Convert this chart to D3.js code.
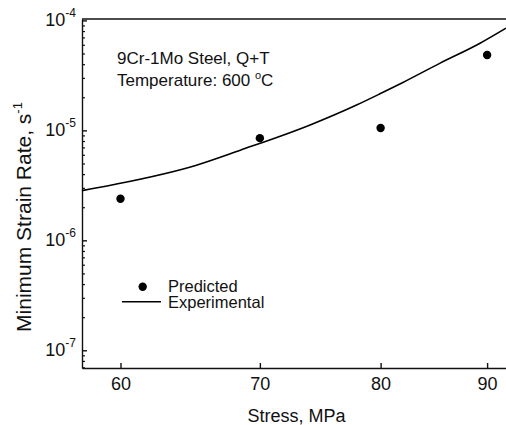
<!DOCTYPE html>
<html>
<head>
<meta charset="utf-8">
<script src="https://cdn.jsdelivr.net/npm/d3@7"></script>
<style>
  body { margin: 0; background: #fff; }
  text { font-family: "Liberation Sans", Arial, sans-serif; fill: #111; }
</style>
</head>
<body>
<div id="canvas"></div>
<script>
// predicted points (dots)
const stressPred = [60, 70, 80, 90];
const ratePred = [2.39e-6, 8.5e-6, 1.05e-5, 4.85e-5];

// experimental curve
const stressExp = [57.5, 59.5, 65.2, 68.5, 74, 77.9, 79.9, 82, 85.4, 89.3, 91.9];
const rateExp = [2.83e-6, 3.2e-6, 4.8e-6, 6.6e-6, 1.12e-5, 1.7e-5, 2.14e-5, 2.73e-5, 4.07e-5, 6.2e-5, 8.5e-5];

const xTicks = [60, 70, 80, 90];
const yTickExps = [-7, -6, -5, -4];

const W = 506, H = 425;
const mLeft = 82, mTop = 19, mBottom = 368, mRight = 506;

let svg = d3.select("#canvas").append("svg")
    .attr("width", W)
    .attr("height", H)

svg.append("rect").attr("width", W).attr("height", H).attr("fill", "#fff")

let x = d3.scaleLog().domain([57.5, 91.9]).range([mLeft, mRight])
let y = d3.scaleLog().domain([6.9e-8, 1.03e-4]).range([mBottom, mTop])

// minor y ticks (2..9 per decade)
let minor = []
for (let e = -8; e <= -5; e++)
    for (let m = 2; m <= 9; m++) {
        let v = m * Math.pow(10, e)
        if (v >= y.domain()[0] && v <= y.domain()[1]) minor.push(v)
    }

let yMinor = svg.append("g")
    .attr("transform", `translate(${mLeft},0)`)
    .call(d3.axisLeft(y).tickValues(minor).tickSizeInner(-3).tickSizeOuter(0).tickFormat(""))
yMinor.select(".domain").remove()
yMinor.selectAll("line").attr("stroke", "#111").attr("stroke-width", 1.2)

let yAxis = svg.append("g")
    .attr("transform", `translate(${mLeft},0)`)
    .call(d3.axisLeft(y).tickValues(yTickExps.map(e => Math.pow(10, e)))
        .tickSizeInner(-5).tickSizeOuter(0).tickFormat(""))

yAxis.selectAll("path, line").attr("stroke", "#111").attr("stroke-width", 1.4)

svg.selectAll(".ylab")
    .data(yTickExps)
    .enter().append("text")
    .attr("class", "ylab")
    .attr("x", mLeft - 6)
    .attr("y", d => y(Math.pow(10, d)) + 6)
    .attr("text-anchor", "end")
    .attr("font-size", 18)
    .each(function(d) {
        let t = d3.select(this)
        t.append("tspan").text("10")
        t.append("tspan").attr("dy", -9).attr("font-size", 12).text(String(d))
    })

let xAxis = svg.append("g")
    .attr("transform", `translate(0,${mBottom})`)
    .call(d3.axisBottom(x).tickValues(xTicks).tickFormat(d3.format("d"))
        .tickSizeInner(-5).tickSizeOuter(0).tickPadding(9))

xAxis.selectAll("path, line").attr("stroke", "#111").attr("stroke-width", 1.4)
xAxis.selectAll("text").attr("font-size", 18).attr("font-family", "Liberation Sans, Arial, sans-serif").attr("fill", "#111")

// top frame line
svg.append("line")
    .attr("x1", mLeft).attr("x2", mRight)
    .attr("y1", mTop).attr("y2", mTop)
    .attr("stroke", "#111").attr("stroke-width", 1.4)

// experimental curve
let expData = stressExp.map((s, i) => [s, rateExp[i]])
svg.append("path")
    .datum(expData)
    .attr("fill", "none")
    .attr("stroke", "#000")
    .attr("stroke-width", 1.6)
    .attr("d", d3.line().x(d => x(d[0])).y(d => y(d[1])).curve(d3.curveMonotoneX))

// predicted dots
svg.selectAll(".dot")
    .data(stressPred)
    .enter().append("circle")
    .attr("class", "dot")
    .attr("cx", d => x(d))
    .attr("cy", (d, i) => y(ratePred[i]))
    .attr("r", 4.2)
    .attr("fill", "#000")

// annotations
svg.append("text").attr("x", 117).attr("y", 63.5).attr("font-size", 17)
    .text("9Cr-1Mo Steel, Q+T")
let temp = svg.append("text").attr("x", 117).attr("y", 85.5).attr("font-size", 17)
temp.append("tspan").text("Temperature: 600 ")
temp.append("tspan").attr("dy", -7).attr("font-size", 11).text("o")
temp.append("tspan").attr("dy", 7).text("C")

// legend
svg.append("circle").attr("cx", 142.7).attr("cy", 286.7).attr("r", 4.2).attr("fill", "#000")
svg.append("text").attr("x", 168).attr("y", 291.5).attr("font-size", 16.5).text("Predicted")
svg.append("line")
    .attr("x1", 122).attr("x2", 161).attr("y1", 301.7).attr("y2", 301.7)
    .attr("stroke", "#000").attr("stroke-width", 1.6)
svg.append("text").attr("x", 168).attr("y", 307.5).attr("font-size", 16.5).text("Experimental")

// axis titles
svg.append("text")
    .attr("x", 296.6).attr("y", 421.5)
    .attr("text-anchor", "middle")
    .attr("font-size", 18)
    .text("Stress, MPa")

let ylab = svg.append("text")
    .attr("transform", "translate(31,217) rotate(-90)")
    .attr("text-anchor", "middle")
    .attr("font-size", 21)
ylab.append("tspan").text("Minimum Strain Rate, s")
ylab.append("tspan").attr("dy", -9).attr("font-size", 13).text("-1")
</script>
</body>
</html>
